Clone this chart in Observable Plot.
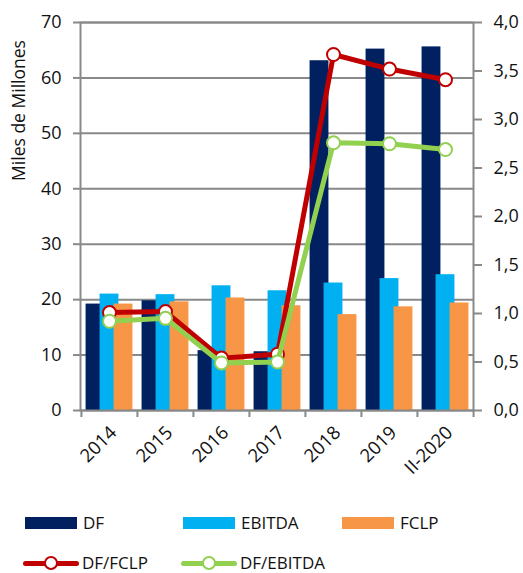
<!DOCTYPE html>
<html><head><meta charset="utf-8">
<script src="https://cdn.jsdelivr.net/npm/d3@7"></script>
<script src="https://cdn.jsdelivr.net/npm/@observablehq/plot@0.6"></script>
<style>
body{margin:0;background:#fff;font-family:"Open Sans",sans-serif;}
#wrap{position:relative;width:523px;height:573px;overflow:hidden;}
.leg{position:absolute;display:flex;align-items:center;font-size:17px;color:#111;height:20px;line-height:20px;}
.sw{width:52px;height:12px;margin-right:6px;}
.ln{position:relative;width:56px;height:20px;margin-right:3px;}
.ln .bar{position:absolute;left:0;right:0;top:7.5px;height:5px;border-radius:2.5px;}
.ln .dot{position:absolute;left:21px;top:3px;width:10px;height:10px;border-radius:50%;background:#fff;border:2px solid;}
</style></head><body><div id="wrap"></div>
<script>
const years = ["2014","2015","2016","2017","2018","2019","II-2020"];
const df = [19.2,19.8,10.8,10.6,63.1,65.2,65.6];
const ebitda = [21.0,20.9,22.5,21.6,23.0,23.8,24.5];
const fclp = [19.2,19.6,20.3,18.9,17.3,18.7,19.4];
const dfFclp = [1.01,1.02,0.54,0.58,3.67,3.52,3.41];
const dfEbitda = [0.92,0.95,0.49,0.50,2.76,2.75,2.69];
const leftTicks = [0,10,20,30,40,50,60,70];
const rightTicks = [0,0.5,1,1.5,2,2.5,3,3.5,4];

const colors = {df:"#002060", ebitda:"#00B0F0", fclp:"#F79646", dfFclp:"#C00000", dfEbitda:"#92D050"};
const gray = "#898989";
const k = leftTicks[leftTicks.length-1] / rightTicks[rightTicks.length-1];

const rows = years.map((y,i)=>({year:y, df:df[i], ebitda:ebitda[i], fclp:fclp[i], dfFclp:dfFclp[i]*k, dfEbitda:dfEbitda[i]*k}));

const W = 523, H = 480, mL = 80, mR = 50, mT = 22, mB = 70;
const bw = (W - mL - mR) / years.length;
const barW = 19, step = 14;
const inset = (bw - barW) / 2;

const chart = Plot.plot({
  width: W, height: H,
  marginLeft: mL, marginRight: mR, marginTop: mT, marginBottom: mB,
  style: {fontFamily: "Open Sans", fontSize: "18px", background: "#fff", color: "#111"},
  x: {type: "band", domain: years, padding: 0, axis: null},
  y: {domain: [0, 70], axis: null},
  marks: [
    Plot.ruleY(leftTicks, {stroke: gray, strokeWidth: 2}),
    Plot.barY(rows, {x: "year", y: "df", fill: colors.df, insetLeft: inset, insetRight: inset, dx: -step}),
    Plot.barY(rows, {x: "year", y: "ebitda", fill: colors.ebitda, insetLeft: inset, insetRight: inset}),
    Plot.barY(rows, {x: "year", y: "fclp", fill: colors.fclp, insetLeft: inset, insetRight: inset, dx: step}),
    Plot.frame({stroke: gray, strokeWidth: 2}),
    Plot.axisY({ticks: leftTicks, tickSize: 7, tickPadding: 12, stroke: gray, strokeWidth: 2, strokeOpacity: 1, fontSize: 18, label: null, fill: "#111"}),
    Plot.axisY({anchor: "right", ticks: rightTicks.map(v=>v*k), tickFormat: d => (d/k).toFixed(1).replace(".", ","), tickSize: 8, tickPadding: 12, stroke: gray, strokeWidth: 2, strokeOpacity: 1, fontSize: 18, label: null, fill: "#111"}),
    Plot.axisX({ticks: years, tickSize: 7, tickFormat: () => "", dx: -bw/2, stroke: gray, strokeWidth: 2, strokeOpacity: 1, label: null}),
    Plot.axisX({ticks: [years[years.length-1]], tickSize: 7, tickFormat: () => "", dx: bw/2, stroke: gray, strokeWidth: 2, strokeOpacity: 1, label: null}),
    Plot.axisX({ticks: years, tickSize: 0, tickPadding: 19, tickRotate: -45, dx: 4, fontSize: 18.5, label: null, fill: "#111"}),
    Plot.line(rows, {x: "year", y: "dfFclp", stroke: colors.dfFclp, strokeWidth: 5}),
    Plot.dot(rows, {x: "year", y: "dfFclp", r: 6.5, fill: "#fff", stroke: colors.dfFclp, strokeWidth: 2}),
    Plot.line(rows, {x: "year", y: "dfEbitda", stroke: colors.dfEbitda, strokeWidth: 5}),
    Plot.dot(rows, {x: "year", y: "dfEbitda", r: 6.5, fill: "#fff", stroke: colors.dfEbitda, strokeWidth: 2}),
    Plot.text(["Miles de Millones"], {text: d => d, frameAnchor: "top-left", textAnchor: "middle", dx: -68, dy: 88, rotate: -90, fontSize: 17.5, fill: "#111"})
  ]
});
const wrap = document.getElementById("wrap");
chart.style.position = "absolute"; chart.style.left = "0"; chart.style.top = "0";
wrap.appendChild(chart);

const legendBars = [
  {name: "DF", color: colors.df, left: 25},
  {name: "EBITDA", color: colors.ebitda, left: 183},
  {name: "FCLP", color: colors.fclp, left: 342}
];
const legendLines = [
  {name: "DF/FCLP", color: colors.dfFclp, left: 23},
  {name: "DF/EBITDA", color: colors.dfEbitda, left: 181}
];
for (const l of legendBars) {
  const d = document.createElement("div");
  d.className = "leg"; d.style.left = l.left + "px"; d.style.top = "513px";
  d.innerHTML = `<div class="sw" style="background:${l.color}"></div><span>${l.name}</span>`;
  wrap.appendChild(d);
}
for (const l of legendLines) {
  const d = document.createElement("div");
  d.className = "leg"; d.style.left = l.left + "px"; d.style.top = "553px";
  d.innerHTML = `<div class="ln"><div class="bar" style="background:${l.color}"></div><div class="dot" style="border-color:${l.color}"></div></div><span>${l.name}</span>`;
  wrap.appendChild(d);
}
</script></body></html>
